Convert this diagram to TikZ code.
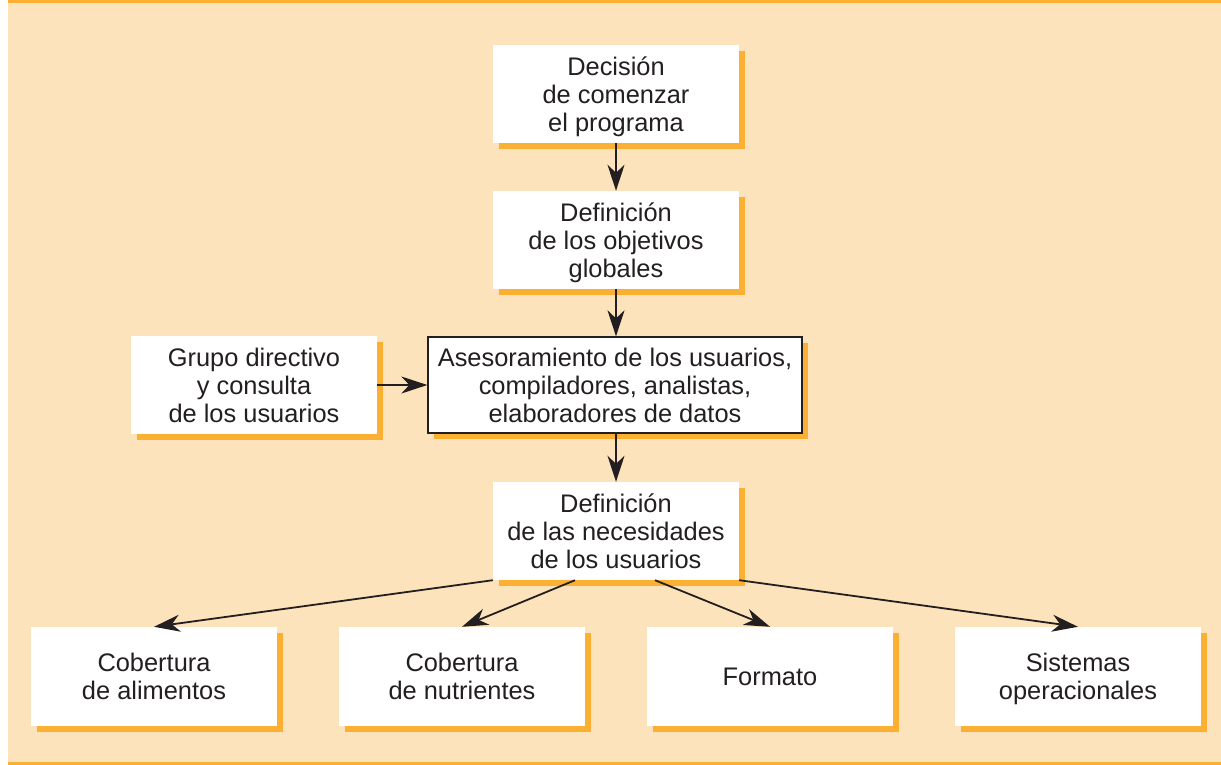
\documentclass[tikz,border=0pt]{standalone}
\usepackage{fontspec}
\setmainfont{Liberation Sans}
\usetikzlibrary{arrows.meta,shadows}
\definecolor{bgbeige}{HTML}{FDE3BC}
\definecolor{shadoworange}{HTML}{FBB034}
\definecolor{txt}{HTML}{231F20}
\tikzset{
  box/.style={fill=white, minimum width=246pt, minimum height=98pt, inner sep=0pt,
    align=center, text=txt, font=\fontsize{25.4}{28}\selectfont, text depth=0pt,
    drop shadow={shadow xshift=6pt, shadow yshift=-6pt, fill=shadoworange, opacity=1}},
  framedbox/.style={box, draw=txt, line width=1.3pt},
  arr/.style={draw=txt, line width=1.8pt, -{Stealth[length=26pt,width=17pt,inset=8pt]}}
}
\begin{document}
\begin{tikzpicture}[x=1pt,y=-1pt]
\useasboundingbox (0,0) rectangle (1221,765);
\fill[white] (0,0) rectangle (1221,765);
\fill[bgbeige] (8,3) rectangle (1221,762);
\fill[shadoworange] (8,0) rectangle (1221,3);
\fill[shadoworange] (8,762) rectangle (1221,765);

\node[box] (d1) at (616,94) {Decisión\\de comenzar\\el programa};
\node[box] (d2) at (616,240) {Definición\\de los objetivos\\globales};
\node[box] (g) at (254,385) {Grupo directivo\\y consulta\\de los usuarios};
\node[framedbox, minimum width=374pt, minimum height=96pt] (a) at (615,385) {Asesoramiento de los usuarios,\\compiladores, analistas,\\elaboradores de datos};
\node[box] (n) at (616,531) {Definición\\de las necesidades\\de los usuarios};
\node[box, minimum height=99pt] (b1) at (154,676.5) {Cobertura\\de alimentos};
\node[box, minimum height=99pt] (b2) at (462,676.5) {Cobertura\\de nutrientes};
\node[box, minimum height=99pt] (b3) at (770,676.5) {Formato};
\node[box, minimum height=99pt] (b4) at (1078,676.5) {Sistemas\\operacionales};

\draw[arr] (d1.south) -- (d2.north);
\draw[arr] (d2.south) -- (a.north -| d2.south);
\draw[arr] (g.east) -- (a.west);
\draw[arr] (a.south -| n.north) -- (n.north);
\draw[arr] (n.south west) -- (b1.north);
\draw[arr] ([xshift=-41pt]n.south) -- (b2.north);
\draw[arr] ([xshift=39pt]n.south) -- (b3.north);
\draw[arr] (n.south east) -- (b4.north);
\end{tikzpicture}
\end{document}
